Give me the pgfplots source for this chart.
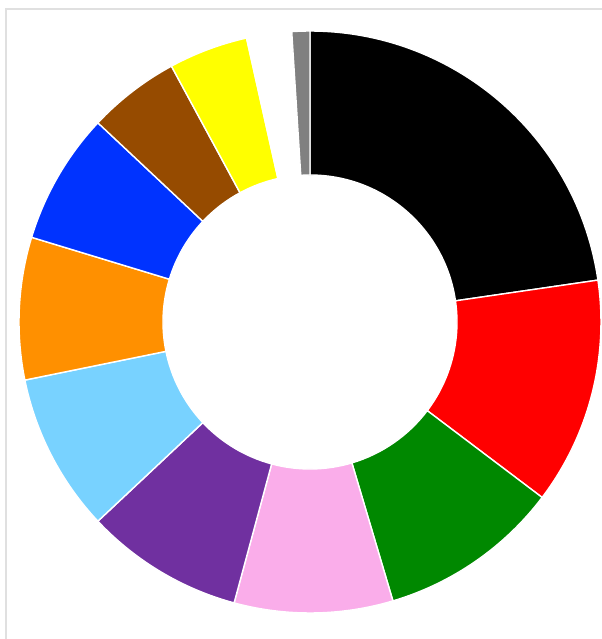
\documentclass[border=0pt]{standalone}
\usepackage{pgfplots}
\usepackage{pgfplotstable}
\pgfplotsset{compat=1.18}
\definecolor{cblack}{HTML}{000000}
\definecolor{cred}{HTML}{FF0000}
\definecolor{cgreen}{HTML}{008800}
\definecolor{cpink}{HTML}{FAADEA}
\definecolor{cpurple}{HTML}{7030A0}
\definecolor{clightblue}{HTML}{78D2FF}
\definecolor{corange}{HTML}{FF9000}
\definecolor{cblue}{HTML}{0033FF}
\definecolor{cbrown}{HTML}{964B00}
\definecolor{cyellow}{HTML}{FFFF00}
\definecolor{cwhite}{HTML}{FFFFFF}
\definecolor{cgray}{HTML}{808080}
\pgfplotstableread{
pct  color
22.7 cblack
12.6 cred
10.1 cgreen
8.8  cpink
8.8  cpurple
8.8  clightblue
7.9  corange
7.3  cblue
5.1  cbrown
4.4  cyellow
2.5  cwhite
1.0  cgray
}\piedata
\begin{document}
\begin{tikzpicture}
\begin{axis}[
  hide axis, scale only axis,
  width=6.02cm, height=6.39cm,
  xmin=0, xmax=602, ymin=0, ymax=639,
]
\addplot[draw=none] coordinates {(0,0) (602,639)};
\draw[black!12, line width=0.6pt] (axis cs:6,0) -- (axis cs:6,630) -- (axis cs:602,630);
\pgfmathsetmacro{\cum}{0}
\pgfplotsforeachungrouped \i in {0,...,11} {%
  \pgfplotstablegetelem{\i}{pct}\of\piedata \let\p\pgfplotsretval
  \pgfplotstablegetelem{\i}{color}\of\piedata \let\c\pgfplotsretval
  \pgfmathsetmacro{\a}{90-3.6*\cum}%
  \pgfmathsetmacro{\b}{90-3.6*(\cum+\p)}%
  \edef\temp{\noexpand\fill[\c, draw=white, line width=0.4pt] (axis cs:310,317) ++(\a:2.91cm) arc[start angle=\a, end angle=\b, radius=2.91cm] -- ++(\b:-1.44cm) arc[start angle=\b, end angle=\a, radius=1.47cm] -- cycle;}%
  \temp
  \pgfmathsetmacro{\cum}{\cum+\p}%
}
\end{axis}
\end{tikzpicture}
\end{document}
